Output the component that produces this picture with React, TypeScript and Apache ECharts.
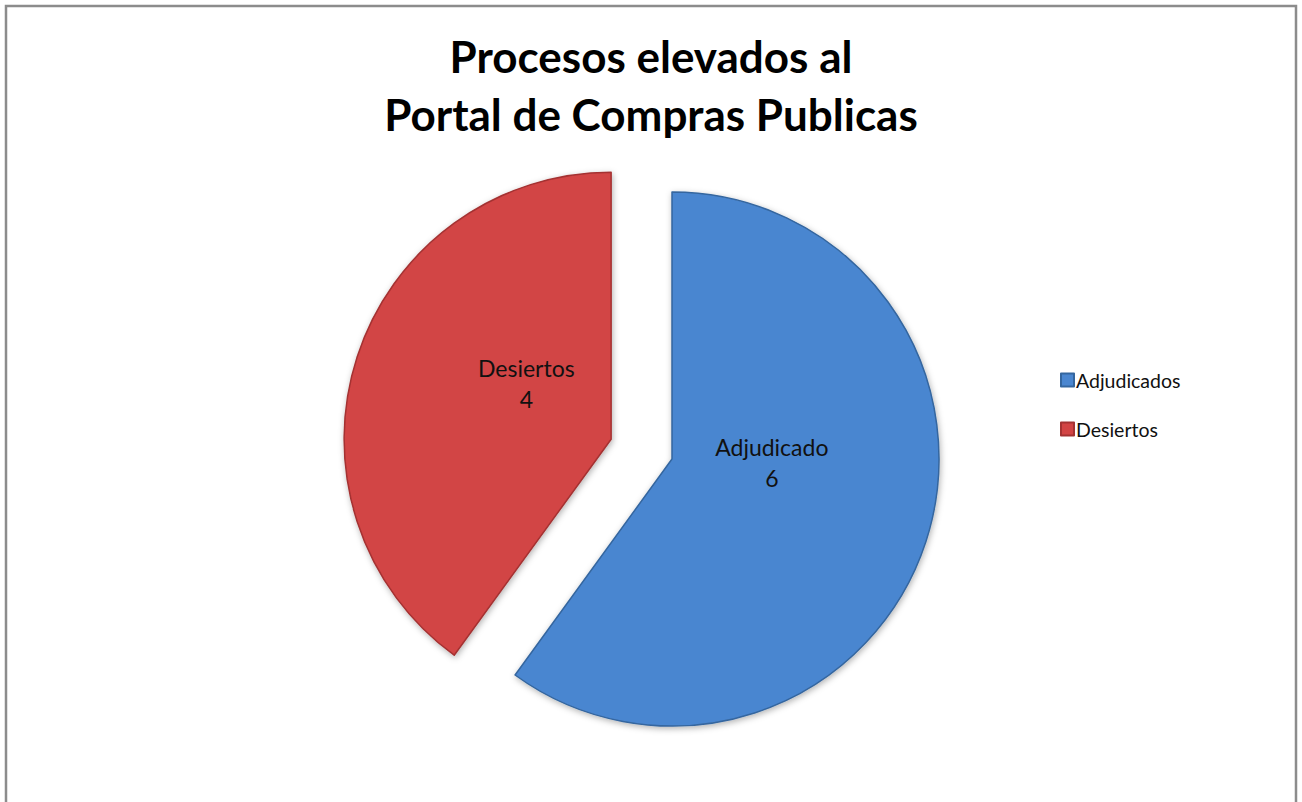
import React, { useEffect, useRef } from "react";
import * as echarts from "echarts";

const titleLines = ["Procesos elevados al", "Portal de Compras Publicas"];
const categories = ["Adjudicados", "Desiertos"];
const labelNames = ["Adjudicado", "Desiertos"];
const values = [6, 4];
const colors = ["#4a86d0", "#d24444"];
const darkColors = ["#34669f", "#a43232"];
const exploded = [false, true];

export default function App() {
  const ref = useRef<HTMLDivElement>(null);
  useEffect(() => {
    if (!ref.current) return;
    const chart = echarts.init(ref.current, null, { renderer: "svg" });
    const labelShift = [
      { dx: -30, dy: -39 },
      { dx: 45, dy: -14 },
    ];
    chart.setOption({
      animation: false,
      backgroundColor: "#ffffff",
      graphic: [
        {
          type: "rect",
          shape: { x: 6, y: 6, width: 1290, height: 820 },
          style: { fill: "none", stroke: "#8c8c8c", lineWidth: 2.5 },
          silent: true,
        },
      ],
      title: {
        text: titleLines.join("\n"),
        left: "center",
        top: 22,
        textStyle: {
          fontFamily: "Lato",
          fontWeight: "bold",
          fontSize: 44,
          lineHeight: 58,
          color: "#000",
        },
      },
      legend: {
        orient: "vertical",
        left: 1055,
        top: 365,
        itemWidth: 13,
        itemHeight: 13,
        itemGap: 29,
        icon: "rect",
        selectedMode: false,
        data: categories,
        textStyle: { fontFamily: "Lato", fontSize: 19.5, color: "#111", padding: [0, 0, 0, -3] },
      },
      series: [
        {
          type: "pie",
          center: [672, 459],
          radius: 267,
          startAngle: 90,
          clockwise: true,
          selectedMode: "single",
          selectedOffset: 64,
          emphasis: { disabled: true },
          label: {
            show: true,
            position: "inside",
            fontFamily: "Lato",
            fontSize: 23,
            lineHeight: 31,
            color: "#111",
            formatter: (p: any) => `${labelNames[p.dataIndex]}\n${p.value}`,
          },
          labelLayout: (p: any) => labelShift[p.dataIndex],
          data: categories.map((name, i) => ({
            name,
            value: values[i],
            selected: exploded[i],
            itemStyle: {
              color: colors[i],
              borderColor: darkColors[i],
              borderWidth: 1.5,
              shadowColor: "rgba(0,0,0,0.3)",
              shadowBlur: 6,
              shadowOffsetX: 1,
              shadowOffsetY: 2,
            },
          })),
        },
      ],
    });
    return () => chart.dispose();
  }, []);
  return (
    <div
      ref={ref}
      style={{ position: "fixed", left: 0, top: 0, width: 1302, height: 802 }}
    />
  );
}
